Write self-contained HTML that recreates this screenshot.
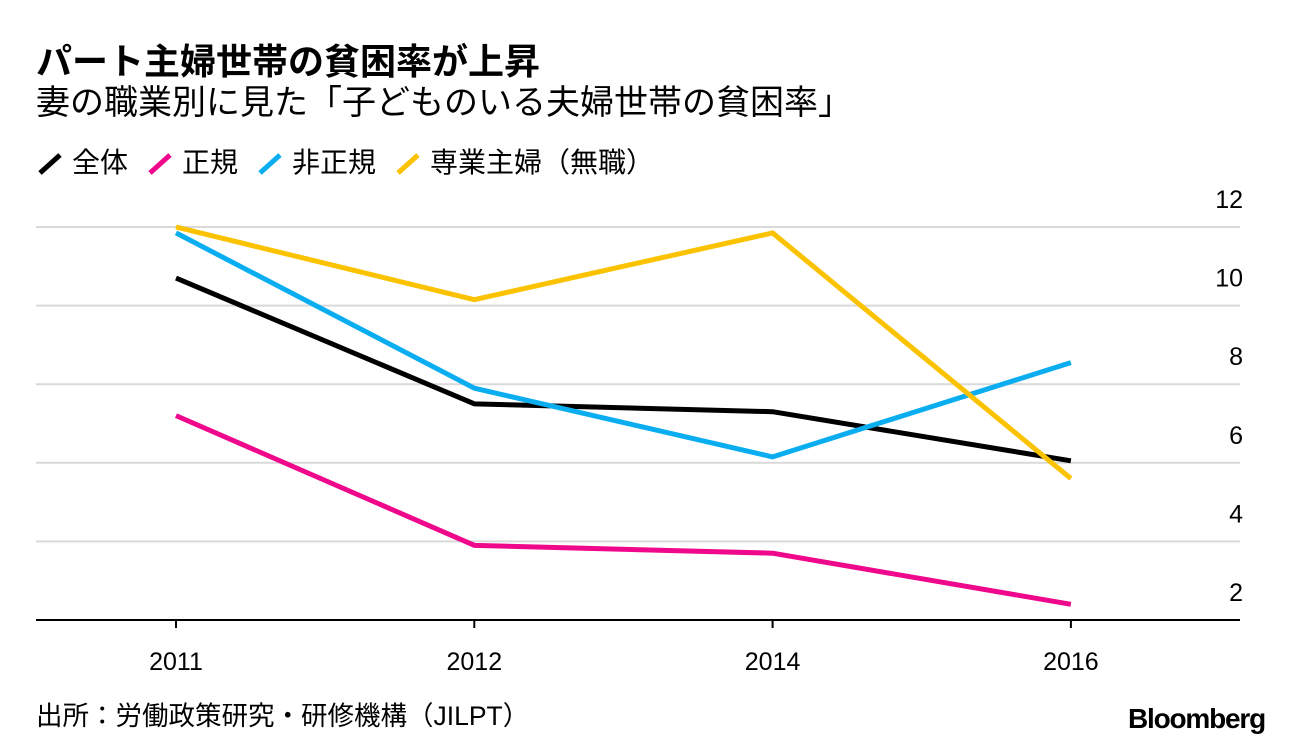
<!DOCTYPE html>
<html><head><meta charset="utf-8"><style>
body{margin:0;width:1296px;height:746px;background:#fff;font-family:"Liberation Sans","Noto Sans CJK JP",sans-serif;overflow:hidden;position:relative}
.t{position:absolute;white-space:nowrap;color:#000}
.lg{display:inline-flex;align-items:center;gap:8px}
</style></head><body>
<div class="t" style="left:36px;top:40px;font-size:36px;font-weight:bold;line-height:44px">パート主婦世帯の貧困率が上昇</div>
<div class="t" style="left:36px;top:83px;font-size:34px;line-height:40px">妻の職業別に見た「子どものいる夫婦世帯の貧困率」</div>
<div class="t" style="left:36px;top:146px;font-size:28px;line-height:34px;display:flex;gap:18px;align-items:center">
<span class="lg"><svg width="28" height="24"><line x1="4" y1="22" x2="24" y2="4" stroke="#000" stroke-width="5"/></svg>全体</span>
<span class="lg"><svg width="28" height="24"><line x1="4" y1="22" x2="24" y2="4" stroke="#f0088c" stroke-width="5"/></svg>正規</span>
<span class="lg"><svg width="28" height="24"><line x1="4" y1="22" x2="24" y2="4" stroke="#0aaef0" stroke-width="5"/></svg>非正規</span>
<span class="lg"><svg width="28" height="24"><line x1="4" y1="22" x2="24" y2="4" stroke="#fbc200" stroke-width="5"/></svg>専業主婦（無職）</span>
</div>
<svg id="chart" width="1296" height="746" style="position:absolute;left:0;top:0"></svg>
<div class="t" style="left:36px;top:700px;font-size:26.5px;line-height:32px">出所：労働政策研究・研修機構（JILPT）</div>
<div class="t" style="left:1128px;top:702px;font-size:28px;font-weight:bold;letter-spacing:-1.2px;line-height:34px">Bloomberg</div>
<script>
const categories=["2011","2012","2014","2016"];
const yTicks=[2,4,6,8,10,12];
const total=[10.7,7.5,7.3,6.05];
const regular=[7.2,3.9,3.7,2.4];
const nonRegular=[11.85,7.9,6.15,8.55];
const housewife=[12.0,10.15,11.85,5.6];
const svg=document.getElementById('chart');
const NS='http://www.w3.org/2000/svg';
const x=i=>176+i*298.3;
const y=v=>620-(v-2)*39.3;
function mk(t,a){const e=document.createElementNS(NS,t);for(const k in a)e.setAttribute(k,a[k]);svg.appendChild(e);return e;}
yTicks.forEach(v=>{
  if(v>2){const g=mk('line',{x1:36,x2:1240,y1:y(v),y2:y(v),stroke:'#d9d9d9','stroke-width':2});
  
  }
  const t=mk('text',{x:1243,y:y(v)-19,'text-anchor':'end','font-size':25,'font-family':'Liberation Sans, sans-serif'});
  t.textContent=v;
  
  
});
const ax=mk('line',{x1:36,x2:1240,y1:620,y2:620,stroke:'#000','stroke-width':2});


categories.forEach((c,i)=>{
  const tk=mk('line',{x1:x(i),x2:x(i),y1:620,y2:628,stroke:'#000','stroke-width':2});
  
  
  const t=mk('text',{x:x(i),y:670,'text-anchor':'middle','font-size':25,'font-family':'Liberation Sans, sans-serif'});
  t.textContent=c;
  
  
});
[[total,'#000','line-total'],[regular,'#f0088c','line-regular'],[nonRegular,'#0aaef0','line-nonregular'],[housewife,'#fbc200','line-housewife']].forEach(([d,c,n])=>{
  const p=mk('polyline',{points:d.map((v,i)=>x(i)+','+y(v)).join(' '),fill:'none',stroke:c,'stroke-width':5,'stroke-linejoin':'round'});
  
  
});
</script>
</body></html>
